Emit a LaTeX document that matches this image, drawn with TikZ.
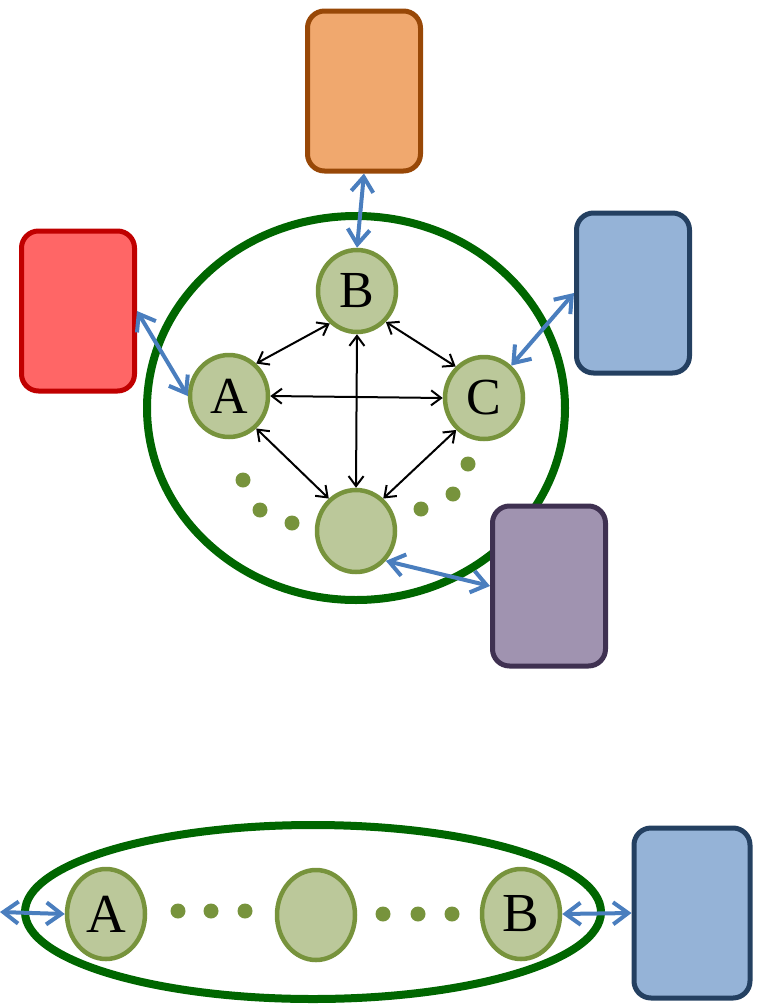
\documentclass[tikz,border=0pt]{standalone}
\usepackage{fontspec}
\setmainfont{Liberation Serif}
\usetikzlibrary{shapes.geometric,arrows.meta}
\definecolor{ringgreen}{RGB}{0,102,0}
\definecolor{nodefill}{RGB}{187,200,154}
\definecolor{nodeline}{RGB}{119,147,60}
\definecolor{linkblue}{RGB}{74,126,190}
\definecolor{orangefill}{RGB}{240,168,110}
\definecolor{orangeline}{RGB}{152,72,7}
\definecolor{redfill}{RGB}{255,102,102}
\definecolor{redline}{RGB}{192,0,0}
\definecolor{bluefill}{RGB}{149,179,215}
\definecolor{blueline}{RGB}{36,64,97}
\definecolor{purplefill}{RGB}{160,147,176}
\definecolor{purpleline}{RGB}{63,49,81}
\tikzset{
  member/.style={ellipse, draw=nodeline, fill=nodefill, line width=4.5pt,
    inner sep=0pt, minimum width=78pt, minimum height=82pt,
    font=\fontsize{52}{52}\selectfont},
  member2/.style={member, minimum width=78pt, minimum height=90pt,
    font=\fontsize{55}{55}\selectfont},
  peer/.style={rectangle, rounded corners=17pt, line width=5pt,
    minimum width=113pt, minimum height=160pt, inner sep=0pt},
  peer2/.style={peer, minimum width=116pt, minimum height=170pt},
  dot/.style={circle, fill=nodeline, inner sep=0pt, minimum size=15pt},
  ring/.style={draw=ringgreen, line width=8pt},
  link/.style={draw=linkblue, line width=4pt,
    {Straight Barb[length=15pt,width=22pt]}-{Straight Barb[length=15pt,width=22pt]}},
  mesh/.style={draw=black, line width=2pt,
    {Straight Barb[length=10pt,width=15pt]}-{Straight Barb[length=10pt,width=15pt]}}
}
\begin{document}
\begin{tikzpicture}[x=1pt,y=-1pt]
\useasboundingbox (0,0) rectangle (759,1004);

% ---- group with full mesh ----
\draw[ring] (356,408) ellipse [x radius=209, y radius=192];

\node[peer, draw=orangeline, fill=orangefill] (orange) at (364,91) {};
\node[peer, draw=redline, fill=redfill] (red) at (78,311) {};
\node[peer, draw=blueline, fill=bluefill] (blue) at (633,293) {};
\node[peer, draw=purpleline, fill=purplefill] (purple) at (549,586) {};

\node[member] (B) at (357,291) {B};
\node[member] (A) at (229,396) {A};
\node[member] (C) at (484,398) {C};
\node[member] (D) at (356,531) {};

\node[dot] (l1) at (243,480) {};
\node[dot] (l2) at (260,510) {};
\node[dot] (l3) at (292,523) {};
\node[dot] (r1) at (468,464) {};
\node[dot] (r2) at (453,494) {};
\node[dot] (r3) at (421,509) {};

\draw[mesh] (A.50) -- (B.230);
\draw[mesh] (B.-47) -- (C.132);
\draw[mesh] (A.east) -- (C.west);
\draw[mesh] (B.south) -- (D.north);
\draw[mesh] (A.-50) -- (D.130);
\draw[mesh] (C.229) -- (D.50);

\draw[link] (orange.south) -- (B.north);
\draw[link] (red.east) -- (A.west);
\draw[link] (C.50) -- (blue.west);
\draw[link] (D.-45) -- (purple.west);

% ---- group as a chain ----
\draw[ring] (313,912) ellipse [x radius=288, y radius=87];

\node[peer2, draw=blueline, fill=bluefill] (blue2) at (692,913) {};

\node[member2] (A2) at (106,914) {A};
\node[member2] (M2) at (316,915) {};
\node[member2] (B2) at (521,914) {B};

\node[dot] (a1) at (178,911) {};
\node[dot] (a2) at (211,911) {};
\node[dot] (a3) at (245,911) {};
\node[dot] (b1) at (383,914) {};
\node[dot] (b2) at (418,914) {};
\node[dot] (b3) at (452,914) {};

\coordinate (outside) at (0,912);
\draw[link] (outside) -- (A2.west);
\draw[link] (B2.east) -- (blue2.west);
\end{tikzpicture}
\end{document}
